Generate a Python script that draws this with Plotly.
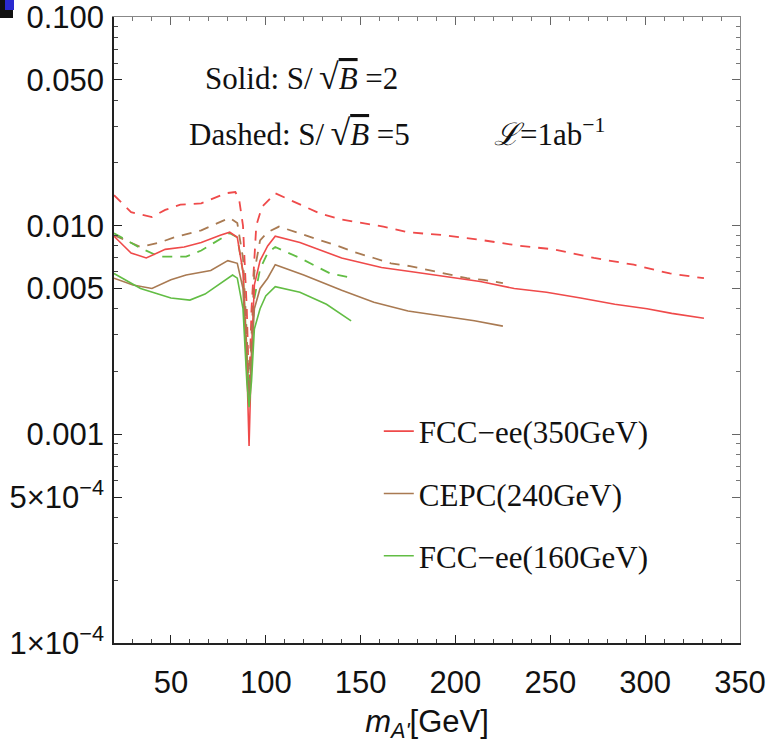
import plotly.graph_objects as go

# ---- data: sensitivity reach vs dark-photon mass ----
# FCC-ee (350 GeV)
x_fcc350_s2 = [20, 29, 37, 47, 57, 66, 76, 81, 85, 88, 90, 91.2, 92.5, 94, 97, 101, 105,
               118, 140, 161, 178, 196, 213, 231, 248, 266, 284, 301, 314, 331]
y_fcc350_s2 = [0.0089, 0.0074, 0.0070, 0.0077, 0.0079, 0.0083, 0.0090, 0.0093, 0.0088, 0.0060,
               0.0022, 0.00088, 0.0025, 0.0052, 0.0068, 0.0080, 0.0089,
               0.0083, 0.0070, 0.0063, 0.0060, 0.0057, 0.0054, 0.0050, 0.0048, 0.0045,
               0.0042, 0.0040, 0.0038, 0.0036]
x_fcc350_s5 = [20, 29, 40, 47, 55, 66, 79, 84, 86, 88, 90, 91.2, 92.5, 95, 98, 105,
               111, 118, 129, 140, 162, 175, 194, 215, 234, 252, 273, 294, 313, 331]
y_fcc350_s5 = [0.0140, 0.0116, 0.0110, 0.0119, 0.0126, 0.0128, 0.0143, 0.0145, 0.0133, 0.0100,
               0.0040, 0.0016, 0.0040, 0.0100, 0.0123, 0.0143,
               0.0135, 0.0126, 0.0114, 0.0107, 0.0099, 0.0093, 0.0090, 0.0085, 0.0080,
               0.0077, 0.0070, 0.0065, 0.0059, 0.0056]

# CEPC (240 GeV)
x_cepc_s2 = [20, 30, 40, 50, 58, 71, 80, 85, 88, 90, 91.2, 92.5, 94, 97, 101, 105,
             120, 140, 157, 175, 192, 210, 225]
y_cepc_s2 = [0.0056, 0.0052, 0.0050, 0.0055, 0.0058, 0.0061, 0.0068, 0.0066, 0.0050, 0.0020,
             0.0014, 0.0022, 0.0040, 0.0050, 0.0056, 0.0065,
             0.0058, 0.0049, 0.0043, 0.0039, 0.0037, 0.0035, 0.0033]
x_cepc_s5 = [20, 34, 44, 52, 66, 76, 81, 85, 88, 90, 91.2, 92.5, 94, 97, 101, 107,
             120, 129, 138, 146, 157, 166, 176, 187, 197, 206, 215, 225]
y_cepc_s5 = [0.0090, 0.0079, 0.0083, 0.0088, 0.0095, 0.0104, 0.0109, 0.0103, 0.0070, 0.0030,
             0.0016, 0.0030, 0.0060, 0.0085, 0.0093, 0.0099,
             0.0090, 0.0085, 0.0080, 0.0075, 0.0070, 0.0066, 0.0064, 0.0061, 0.0058,
             0.0056, 0.0055, 0.0053]

# FCC-ee (160 GeV)
x_fcc160_s2 = [20, 34, 50, 60, 68, 76, 82.5, 85, 88, 90, 91.2, 92.5, 94, 97, 100, 105,
               118, 132, 145]
y_fcc160_s2 = [0.0059, 0.0050, 0.0045, 0.0044, 0.0047, 0.0053, 0.0058, 0.0056, 0.0040, 0.0018,
               0.00135, 0.0018, 0.0032, 0.0040, 0.0046, 0.0051,
               0.0048, 0.0042, 0.0035]
x_fcc160_s5 = [20, 34, 44, 58, 66, 73, 81, 85, 88, 90, 91.2, 92.5, 94, 97, 101, 105,
               118, 134, 146]
y_fcc160_s5 = [0.0092, 0.0078, 0.0071, 0.0071, 0.0076, 0.0083, 0.0092, 0.0088, 0.0060, 0.0025,
               0.0015, 0.0025, 0.0045, 0.0062, 0.0074, 0.0079,
               0.0070, 0.0059, 0.0056]

names = ["FCC\u2212ee(350GeV)", "CEPC(240GeV)", "FCC\u2212ee(160GeV)"]
colors = ["#ef4a4a", "#a97a52", "#62bd44"]

x_ticks = [50, 100, 150, 200, 250, 300, 350]
y_ticks = [1e-4, 5e-4, 1e-3, 5e-3, 1e-2, 5e-2, 1e-1]
y_ticktext = ["1\u00d710<sup>\u22124</sup>", "5\u00d710<sup>\u22124</sup>", "0.001", "0.005",
              "0.010", "0.050", "0.100"]

series = [
    (x_fcc350_s2, y_fcc350_s2, x_fcc350_s5, y_fcc350_s5),
    (x_cepc_s2, y_cepc_s2, x_cepc_s5, y_cepc_s5),
    (x_fcc160_s2, y_fcc160_s2, x_fcc160_s5, y_fcc160_s5),
]

fig = go.Figure()
for i, (xs, ys, xd, yd) in enumerate(series):
    fig.add_trace(go.Scatter(x=xd, y=yd, mode="lines", showlegend=False,
                             line=dict(color=colors[i], width=1.8, dash="10px,8px")))
for i, (xs, ys, xd, yd) in enumerate(series):
    fig.add_trace(go.Scatter(x=xs, y=ys, mode="lines", name=names[i], legendgroup=names[i],
                             line=dict(color=colors[i], width=1.6)))

# empty trace carrying the top/right frame axes
fig.add_trace(go.Scatter(x=[None], y=[None], xaxis="x2", yaxis="y2", showlegend=False,
                         hoverinfo="skip"))

# minor tick positions
y_minor = [k * 10.0 ** e for e in (-4, -3, -2) for k in range(1, 10) if k not in (1, 5)]
x_minor = [v for v in range(20, 351, 10) if v % 50 != 0]

sans = "Liberation Sans, Arial, sans-serif"
tick_font = dict(family=sans, size=31, color="#111")

fig.update_layout(
    template="none",
    width=771, height=747,
    margin=dict(l=114, r=31, t=17, b=104, autoexpand=False),
    paper_bgcolor="white", plot_bgcolor="white",
    xaxis=dict(range=[20, 350], tickmode="array", tickvals=x_ticks, automargin=False,
               ticks="inside", ticklen=8, tickwidth=1, tickcolor="#222",
               showline=True, linecolor="#222", linewidth=1.6, showgrid=False,
               zeroline=False, tickfont=tick_font, ticklabelstandoff=11,
               ticklabeloverflow="allow",
               minor=dict(tickmode="array", tickvals=x_minor, ticks="inside",
                          ticklen=4, tickcolor="#444", showgrid=False),
               title=dict(text="<i>m</i><sub><i>A'</i></sub>[GeV]",
                          font=dict(family=sans, size=31, color="#111"),
                          standoff=11)),
    yaxis=dict(type="log", range=[-4, -1], tickmode="array", tickvals=y_ticks,
               ticktext=y_ticktext, ticks="inside", ticklen=8, tickwidth=1, automargin=False,
               tickcolor="#222", showline=True, linecolor="#222", linewidth=1.6,
               showgrid=False, zeroline=False, tickfont=tick_font, ticklabelstandoff=2,
               ticklabeloverflow="allow",
               minor=dict(tickmode="array", tickvals=y_minor, ticks="inside",
                          ticklen=4, tickcolor="#444", showgrid=False)),
    xaxis2=dict(overlaying="x", side="top", anchor="y2", range=[20, 350], automargin=False,
                tickmode="array", tickvals=x_ticks, showticklabels=False,
                ticks="inside", ticklen=8, tickcolor="#666", showline=True,
                linecolor="#888", linewidth=1, showgrid=False, zeroline=False,
                minor=dict(tickmode="array", tickvals=x_minor, ticks="inside",
                           ticklen=4, tickcolor="#777")),
    yaxis2=dict(overlaying="y", side="right", anchor="x2", type="log", range=[-4, -1],
                automargin=False,
                tickmode="array", tickvals=y_ticks, showticklabels=False,
                ticks="inside", ticklen=8, tickcolor="#666", showline=True,
                linecolor="#888", linewidth=1, showgrid=False, zeroline=False,
                minor=dict(tickmode="array", tickvals=y_minor, ticks="inside",
                           ticklen=4, tickcolor="#777")),
    legend=dict(x=0.423, y=0.381, xanchor="left", yanchor="top",
                bgcolor="rgba(0,0,0,0)", traceorder="grouped", tracegroupgap=19,
                font=dict(family="Liberation Serif, Times New Roman, serif", size=31,
                          color="#111")),
    showlegend=True,
)

serif = dict(family="Liberation Serif, Times New Roman, serif", size=31, color="#111")
root_b = ("S/\u2009<span style='font-size:36px'>\u221a</span>"
          "<span style='text-decoration:overline'><i>B</i></span>")
fig.add_annotation(xref="paper", yref="paper", x=0.299, y=0.904, xanchor="center",
                   yanchor="middle", showarrow=False,
                   text="Solid: " + root_b + " =2", font=serif)
fig.add_annotation(xref="paper", yref="paper", x=0.297, y=0.814, xanchor="center",
                   yanchor="middle", showarrow=False,
                   text="Dashed: " + root_b + " =5", font=serif)
fig.add_annotation(xref="paper", yref="paper", x=0.696, y=0.815, xanchor="center",
                   yanchor="middle", showarrow=False,
                   text="<i>\u2112</i>=1ab<sup>\u22121</sup>", font=serif)

# small dark block in the top-left corner of the page
fig.add_shape(type="rect", xref="paper", yref="paper", x0=-0.1821, x1=-0.1613,
              y0=0.9984, y1=1.0272, fillcolor="#111111", line_width=0, layer="above")
fig.add_shape(type="rect", xref="paper", yref="paper", x0=-0.1741, x1=-0.1597,
              y0=1.0112, y1=1.0272, fillcolor="#2a2ad0", line_width=0, layer="above")

fig.write_html("out.html")
